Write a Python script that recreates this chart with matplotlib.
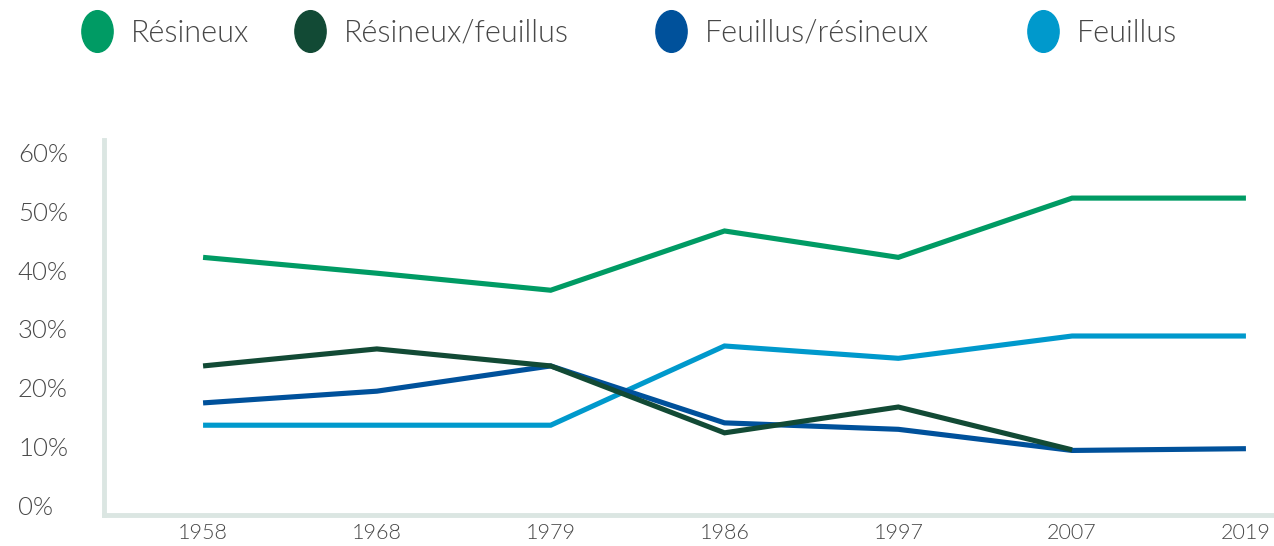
import numpy as np
from matplotlib import pyplot as plt
from matplotlib.path import Path
from matplotlib.transforms import Affine2D
from matplotlib.lines import Line2D

plt.rcParams['font.family'] = ['Lato', 'DejaVu Sans']

years = ['1958', '1968', '1979', '1986', '1997', '2007', '2019']
resineux = [42.2, 39.5, 36.6, 46.7, 42.2, 52.3, 52.3]
resineux_feuillus = [23.7, 26.6, 23.7, 12.3, 16.7, 9.4, np.nan]
feuillus_resineux = [17.4, 19.4, 23.7, 14.0, 12.9, 9.3, 9.6]
feuillus = [13.6, 13.6, 13.6, 27.1, 25.0, 28.8, 28.8]

names = ['Résineux', 'Résineux/feuillus', 'Feuillus/résineux', 'Feuillus']
colors = ['#009b64', '#124a35', '#00519b', '#0099cc']
series = [resineux, resineux_feuillus, feuillus_resineux, feuillus]

fig = plt.figure(figsize=(12.74, 5.46), dpi=100)
ax = fig.add_axes([104/1274, 31/546, 1168/1274, 375/546])

x = np.arange(len(years))
# draw order: light blue, blue, dark green, green
for i in [3, 2, 1, 0]:
    ax.plot(x, series[i], color=colors[i], lw=3.7, solid_capstyle='butt',
            solid_joinstyle='miter')

ax.set_xlim(-0.57, 6.15)
ax.set_ylim(-1.7, 62.2)
ax.set_xticks(x)
ax.set_xticklabels(years)
ax.set_yticks([0, 10, 20, 30, 40, 50, 60])
ax.set_yticklabels([f'{v}%' for v in range(0, 70, 10)], ha='left')
ax.tick_params(axis='y', length=0, pad=62, labelsize=18.5, labelcolor='#484848')
ax.tick_params(axis='x', length=0, pad=6, labelsize=15.5, labelcolor='#484848')
for lab in ax.get_xticklabels() + ax.get_yticklabels():
    lab.set_fontweight(300)

for s in ['top', 'right']:
    ax.spines[s].set_visible(False)
for s in ['left', 'bottom']:
    ax.spines[s].set_color('#dbe6e2')
    ax.spines[s].set_linewidth(3.5)

# elliptical legend marker
ell = Path.unit_circle().transformed(Affine2D().scale(0.75, 1.0))
legend_x = [80, 293, 654, 1026]
for i in range(4):
    h = Line2D([], [], marker=ell, markersize=30, color=colors[i], ls='none')
    fig.legend([h], [names[i]], loc='center left',
               bbox_to_anchor=(legend_x[i] / 1274, 1 - 33 / 546),
               frameon=False, handletextpad=0.55, borderpad=0, borderaxespad=0,
               handlelength=1.1,
               prop={'size': 22, 'weight': 300}, labelcolor='#484848')

plt.savefig('out.png', dpi=100)
